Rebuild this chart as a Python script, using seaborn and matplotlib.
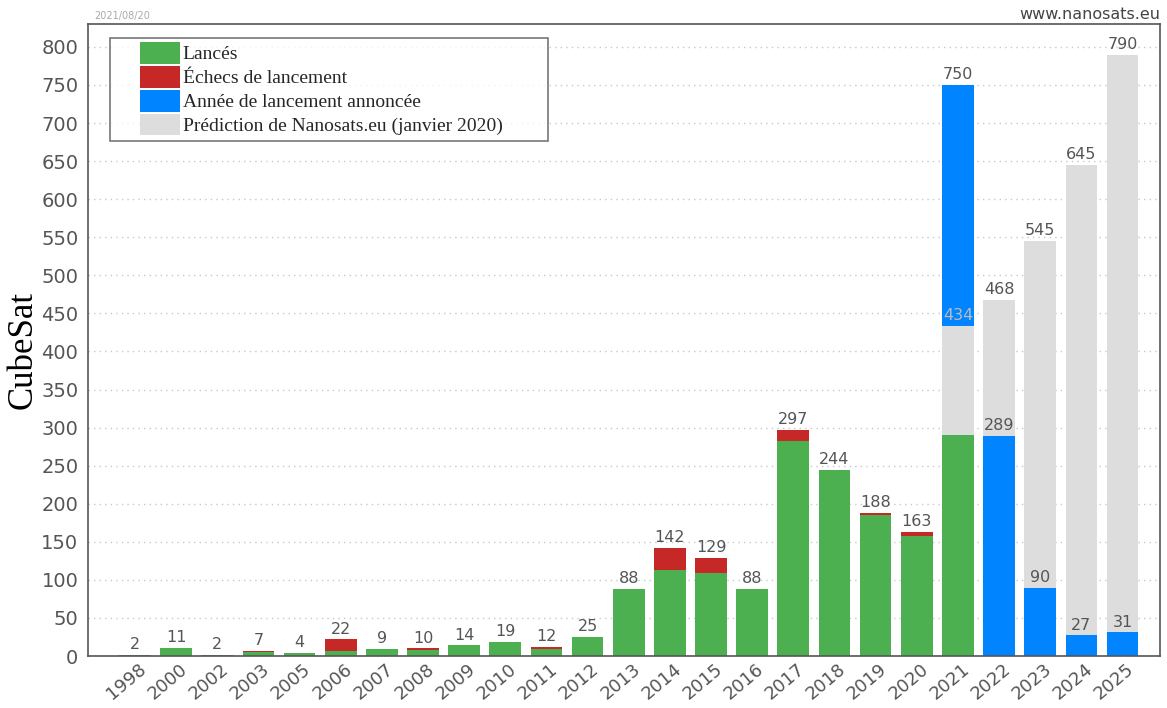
import matplotlib
matplotlib.use("Agg")
import matplotlib.pyplot as plt
import matplotlib.transforms as mtransforms
from matplotlib.patches import Patch, Rectangle
from matplotlib.legend_handler import HandlerPatch
import numpy as np
import seaborn as sns

# CubeSat counts per year
years = ["1998", "2000", "2002", "2003", "2005", "2006", "2007", "2008", "2009",
         "2010", "2011", "2012", "2013", "2014", "2015", "2016", "2017", "2018",
         "2019", "2020", "2021", "2022", "2023", "2024", "2025"]
launched = [2, 11, 2, 5, 4, 6, 9, 8, 14, 19, 9, 25, 88, 113, 109, 88, 282, 244,
            185, 157, 290, 0, 0, 0, 0]
failed = [0, 0, 0, 2, 0, 16, 0, 2, 0, 0, 3, 0, 0, 29, 20, 0, 15, 0,
          3, 6, 0, 0, 0, 0, 0]
announced = [0] * 20 + [750, 289, 90, 27, 31]
predicted = [0] * 20 + [434, 468, 545, 645, 790]

legend_labels = ["Lancés", "Échecs de lancement",
                 "Année de lancement annoncée",
                 "Prédiction de Nanosats.eu (janvier 2020)"]

GREEN = "#4caf50"
RED = "#c62828"
BLUE = "#0084ff"
GREY = "#dddddd"
TEXT = "#555555"

sns.set_style("white")
plt.rcParams["font.family"] = ["DejaVu Sans"]

fig = plt.figure(figsize=(11.67, 7.08), dpi=100)
ax = fig.add_axes([0.0754, 0.0734, 0.9186, 0.8926])

launched = np.array(launched)
failed = np.array(failed)
announced = np.array(announced)
predicted = np.array(predicted)
total = launched + failed

# the taller of announced / predicted sits behind the shorter one
ann_back = np.where(announced >= predicted, announced, 0)
pred_back = np.where(predicted > announced, predicted, 0)
ann_front = np.where(announced < predicted, announced, 0)
pred_front = np.where(predicted <= announced, predicted, 0)

bar_kw = dict(order=years, width=0.77, saturation=1, linewidth=0, ax=ax)
layers = [
    (ann_back, BLUE),
    (pred_back, GREY),
    (ann_front, BLUE),
    (pred_front, GREY),
    (total, RED),
    (launched, GREEN),
]
for vals, col in layers:
    sns.barplot(x=years, y=vals, color=col, **bar_kw)

conts = ax.containers
hist = np.array([a == 0 and p == 0 for a, p in zip(announced, predicted)])


def lab(vals, mask):
    return [str(int(v)) if (m and v > 0) else "" for v, m in zip(vals, mask)]


label_kw = dict(padding=2, fontsize=11.5)
ax.bar_label(conts[0], labels=lab(ann_back, ~hist), color=TEXT, **label_kw)
ax.bar_label(conts[1], labels=lab(pred_back, ~hist), color=TEXT, **label_kw)
ax.bar_label(conts[2], labels=lab(ann_front, ~hist), color=TEXT, **label_kw)
ax.bar_label(conts[3], labels=lab(pred_front, ~hist), color="#bbbbbb", **label_kw)
ax.bar_label(conts[4], labels=lab(total, hist), color=TEXT, **label_kw)

ax.set_xlim(-1.14, 24.91)
ax.set_ylim(0, 830)
ax.set_yticks(np.arange(0, 801, 50))
ax.yaxis.grid(True, color="#c8c8c8", linestyle=(0, (1, 3)), linewidth=1)
ax.set_axisbelow(True)
ax.tick_params(axis="both", length=0, colors=TEXT)
ax.tick_params(axis="y", pad=7, labelsize=14)
ax.tick_params(axis="x", pad=3, labelsize=13)
ax.set_xlabel("")
ax.set_ylabel("CubeSat", family=["Liberation Serif"], fontsize=25,
              color="black")
ax.yaxis.set_label_coords(-0.045, 0.484)

shift = mtransforms.ScaledTranslation(15 / 100, 0, fig.dpi_scale_trans)
for t in ax.get_xticklabels():
    t.set_rotation(40)
    t.set_ha("right")
    t.set_transform(t.get_transform() + shift)

for s in ax.spines.values():
    s.set_color("#555555")
    s.set_linewidth(1.2)


def swatch(legend, orig_handle, xdescent, ydescent, width, height, fontsize):
    # colour block placed at the right end of the handle slot
    w = width * 0.62
    return Rectangle((-xdescent + width - w, -ydescent - 0.1 * height), w, height * 1.2)


handles = [Patch(facecolor=c, edgecolor="none") for c in (GREEN, RED, BLUE, GREY)]
leg = ax.legend(handles, legend_labels, loc="upper left",
                bbox_to_anchor=(0.0205, 0.978, 0.4085, 0.0), mode="expand",
                frameon=True, fancybox=False,
                prop={"family": "Liberation Serif", "size": 14},
                handlelength=3.3, handleheight=1.05, handletextpad=0.15,
                labelspacing=0.22, borderpad=0.3, borderaxespad=0,
                handler_map={Patch: HandlerPatch(patch_func=swatch)})
leg.get_frame().set_edgecolor("#555555")
leg.get_frame().set_linewidth(1.2)

fig.text(0.081, 0.978, "2021/08/20", fontsize=7, color="#aaaaaa", va="center")
fig.text(0.994, 0.979, "www.nanosats.eu", fontsize=11.5, color="#444444",
         ha="right", va="center")

fig.savefig("out.png", dpi=100)
